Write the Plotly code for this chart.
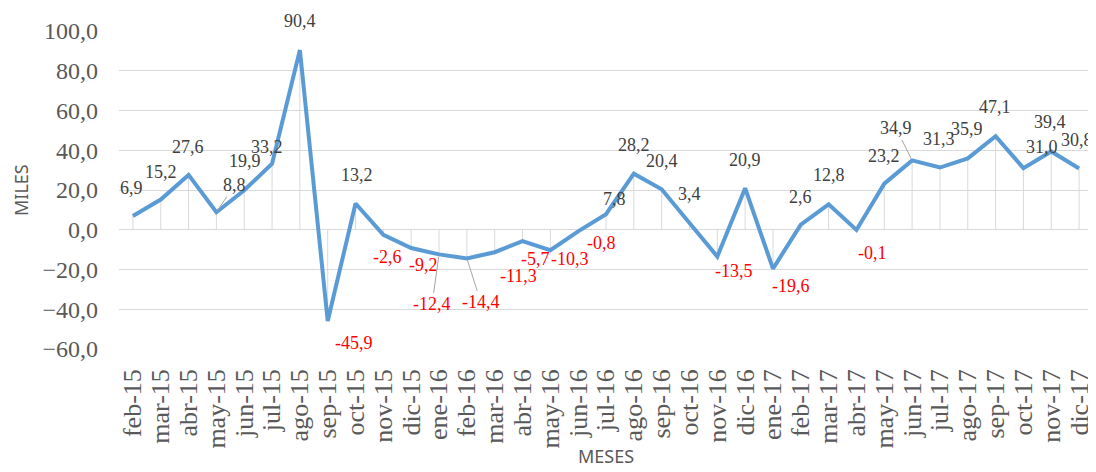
import plotly.graph_objects as go

meses = ["feb-15", "mar-15", "abr-15", "may-15", "jun-15", "jul-15", "ago-15", "sep-15",
         "oct-15", "nov-15", "dic-15", "ene-16", "feb-16", "mar-16", "abr-16", "may-16",
         "jun-16", "jul-16", "ago-16", "sep-16", "oct-16", "nov-16", "dic-16", "ene-17",
         "feb-17", "mar-17", "abr-17", "may-17", "jun-17", "jul-17", "ago-17", "sep-17",
         "oct-17", "nov-17", "dic-17"]
miles = [6.9, 15.2, 27.6, 8.8, 19.9, 33.2, 90.4, -45.9,
         13.2, -2.6, -9.2, -12.4, -14.4, -11.3, -5.7, -10.3,
         -0.8, 7.8, 28.2, 20.4, 3.4, -13.5, 20.9, -19.6,
         2.6, 12.8, -0.1, 23.2, 34.9, 31.3, 35.9, 47.1,
         31.0, 39.4, 30.8]
y_ticks = [-60, -40, -20, 0, 20, 40, 60, 80, 100]

# label offsets in screen px (dx, dy; dy positive = down)
label_offsets = [(-1, -28), (0, -28), (-1, -28), (18, -27), (1, -29), (-5, -17), (0, -29), (26, 22),
                 (1, -29), (4, 22), (12, 17), (-7, 50), (14, 44), (24, 24), (13, 18), (20, 9),
                 (23, 12), (8, -15), (0, -29), (0, -28), (0, -29), (17, 14), (0, -28), (18, 17),
                 (0, -28), (0, -29), (16, 23), (0, -28), (-16, -32), (-1, -29), (-1, -29), (-1, -29),
                 (19, -21), (-1, -29), (-2, -29)]
leaders = {3, 11, 12, 28}

GRID = "#d9d9d9"
TXT = "#595959"
SERIF = "Liberation Serif, Times New Roman, serif"
SANS = "Noto Sans, Open Sans, sans-serif"

# drop lines from zero to each value
dx, dy = [], []
for m, v in zip(meses, miles):
    dx += [m, m, None]
    dy += [0, v, None]

fig = go.Figure()
fig.add_trace(go.Scatter(x=dx, y=dy, mode="lines", line=dict(color=GRID, width=1),
                         hoverinfo="skip", showlegend=False))
fig.add_trace(go.Scatter(x=meses, y=miles, mode="lines",
                         line=dict(color="#5b9bd5", width=4), showlegend=False))

annotations = []
for i, (m, v) in enumerate(zip(meses, miles)):
    txt = f"{v:.1f}".replace(".", ",")
    col = "#404040" if v >= 0 else "#ff0000"
    ox, oy = label_offsets[i]
    if i in leaders:
        annotations.append(dict(x=m, y=v, xref="x", yref="y", text=txt, showarrow=True,
                                ax=ox, ay=oy, arrowhead=0, arrowwidth=1, arrowcolor="#a6a6a6",
                                standoff=2, font=dict(family=SERIF, size=18, color=col)))
    else:
        annotations.append(dict(x=m, y=v, xref="x", yref="y", text=txt, showarrow=False,
                                xshift=ox, yshift=-oy,
                                font=dict(family=SERIF, size=18, color=col)))

annotations.append(dict(text="MILES", xref="paper", yref="paper", x=0, y=0.5, xshift=-98,
                        showarrow=False, textangle=-90, xanchor="center", yanchor="middle",
                        font=dict(family=SANS, size=18, color=TXT)))
annotations.append(dict(text="MESES", xref="paper", yref="paper", x=0.5, y=0, yshift=-121,
                        showarrow=False, xanchor="center", yanchor="bottom",
                        font=dict(family=SANS, size=18, color=TXT)))

# the page body has an 8px margin, so the figure is offset by (8, 8)
fig.update_layout(
    width=1088, height=464,
    margin=dict(l=111, r=3, t=23, b=123),
    paper_bgcolor="white", plot_bgcolor="white",
    separators=",.",
    annotations=annotations,
    xaxis=dict(type="category", range=[-0.5, len(meses) - 0.5], showgrid=False,
               tickmode="array", tickvals=meses, ticktext=meses,
               tickangle=-90, tickfont=dict(family=SERIF, size=26, color=TXT),
               ticks="", ticklabelstandoff=14, showline=False, zeroline=False),
    yaxis=dict(range=[-60, 100], tickvals=y_ticks, tickformat=".1f",
               showgrid=True, gridcolor=GRID, gridwidth=1, zeroline=True,
               zerolinecolor=GRID, zerolinewidth=1, showline=False, ticks="",
               ticklabelstandoff=20, tickfont=dict(family=SERIF, size=24, color=TXT)),
)

fig.write_html("out.html")
